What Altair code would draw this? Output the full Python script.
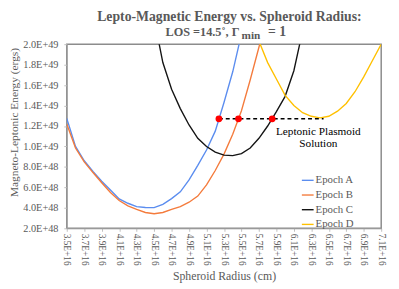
import altair as alt
import pandas as pd

# ---- data (radius in cm, energy in ergs) ----
radius_a = [3.5e16, 3.6e16, 3.7e16, 3.8e16, 3.9e16, 4.0e16, 4.1e16, 4.2e16, 4.3e16, 4.4e16,
            4.5e16, 4.6e16, 4.7e16, 4.8e16, 4.9e16, 5.0e16, 5.1e16, 5.2e16, 5.3e16, 5.4e16, 5.5e16]
energy_a = [1.275e49, 1.0e49, 8.6e48, 7.55e48, 6.6e48, 5.75e48, 4.88e48, 4.45e48, 4.12e48, 4.03e48,
            4.02e48, 4.35e48, 4.9e48, 5.57e48, 6.73e48, 8.15e48, 9.65e48, 1.15e49, 1.43e49, 1.73e49, 2.1e49]

radius_b = [3.5e16, 3.6e16, 3.7e16, 3.8e16, 3.9e16, 4.0e16, 4.1e16, 4.2e16, 4.3e16, 4.4e16,
            4.5e16, 4.6e16, 4.7e16, 4.8e16, 4.9e16, 5.0e16, 5.1e16, 5.2e16, 5.3e16, 5.4e16,
            5.5e16, 5.6e16, 5.7e16, 5.8e16]
energy_b = [1.22e49, 9.85e48, 8.5e48, 7.45e48, 6.45e48, 5.5e48, 4.72e48, 4.2e48, 3.85e48, 3.55e48,
            3.43e48, 3.55e48, 3.85e48, 4.12e48, 4.55e48, 5.15e48, 6.25e48, 7.65e48, 9.25e48, 1.12e49,
            1.35e49, 1.65e49, 1.97e49, 2.3e49]

radius_c = [4.5e16, 4.6e16, 4.7e16, 4.8e16, 4.9e16, 5.0e16, 5.1e16, 5.2e16, 5.3e16, 5.4e16,
            5.5e16, 5.6e16, 5.7e16, 5.8e16, 5.9e16, 6.0e16, 6.1e16, 6.2e16]
energy_c = [2.25e49, 1.82e49, 1.56e49, 1.37e49, 1.21e49, 1.08e49, 1.0e49, 9.45e48, 9.15e48, 9.1e48,
            9.3e48, 9.85e48, 1.08e49, 1.2e49, 1.34e49, 1.49e49, 1.74e49, 2.13e49]

radius_d = [5.7e16, 5.8e16, 5.9e16, 6.0e16, 6.1e16, 6.2e16, 6.3e16, 6.4e16, 6.5e16, 6.6e16,
            6.7e16, 6.8e16, 6.9e16, 7.0e16, 7.1e16]
energy_d = [2.03e49, 1.82e49, 1.66e49, 1.5e49, 1.4e49, 1.33e49, 1.295e49, 1.28e49, 1.295e49, 1.345e49,
            1.42e49, 1.535e49, 1.68e49, 1.84e49, 2.0e49]

series_names = ["Epoch A", "Epoch B", "Epoch C", "Epoch D"]
series_colors = ["#5B8DEF", "#F47B3C", "#141414", "#FFC000"]
series_widths = [1.4, 1.4, 1.8, 1.4]

solution_radius = [5.242e16, 5.466e16, 5.852e16]
solution_energy = [1.27e49, 1.27e49, 1.27e49]
solution_line_start = [5.242e16]
solution_line_end = [6.44e16]
solution_line_energy = [1.27e49]

x_ticks = [3.5e16, 3.7e16, 3.9e16, 4.1e16, 4.3e16, 4.5e16, 4.7e16, 4.9e16, 5.1e16, 5.3e16,
           5.5e16, 5.7e16, 5.9e16, 6.1e16, 6.3e16, 6.5e16, 6.7e16, 6.9e16, 7.1e16]
y_ticks = [2e48, 4e48, 6e48, 8e48, 1.0e49, 1.2e49, 1.4e49, 1.6e49, 1.8e49, 2.0e49]

title_line1 = "Lepto-Magnetic Energy vs. Spheroid Radius:"
title_line2 = ["LOS =14.5˚, Γ", "min", "= 1"]

rows = []
for name, xs, ys in zip(series_names, [radius_a, radius_b, radius_c, radius_d],
                        [energy_a, energy_b, energy_c, energy_d]):
    for x, y in zip(xs, ys):
        rows.append({"radius": x, "energy": y, "series": name})
df = pd.DataFrame(rows)

dots = pd.DataFrame({"radius": solution_radius, "energy": solution_energy})
dash = pd.DataFrame({"radius": solution_line_start, "radius2": solution_line_end,
                     "energy": solution_line_energy})
note = pd.DataFrame({"radius": [6.38e16], "energy": [1.116e49], "t": ["Leptonic Plasmoid\nSolution"]})

SERIF = "'Liberation Serif', 'Times New Roman', Times, serif"
GREY = "#595959"

x_scale = alt.Scale(domain=[3.5e16, 7.1e16], nice=False, zero=False)
y_scale = alt.Scale(domain=[2e48, 2e49], nice=False, zero=False)

common_axis = dict(grid=False, labelOverlap=False, labelBound=False, labelFlush=False,
                   labelFont=SERIF, labelColor=GREY,
                   titleFont=SERIF, titleFontWeight="normal", titleColor=GREY,
                   tickColor="#bfbfbf", tickSize=3, domainColor="#a0a0a0", domainWidth=1)

x_enc = alt.X("radius:Q", scale=x_scale, title="Spheroid Radius (cm)",
              axis=alt.Axis(values=x_ticks, labelAngle=90, labelFontSize=9.5, titleFontSize=12,
                            labelExpr="format(datum.value/1e16,'.1f')+'E+16'",
                            labelPadding=2, titleY=52, titleBaseline="alphabetic", **common_axis))
y_enc = alt.Y("energy:Q", scale=y_scale, title="Magneto-Leptonic Energy (ergs)",
              axis=alt.Axis(values=y_ticks, labelFontSize=10.5, titleFontSize=11.6,
                            labelExpr="datum.value >= 9.99e48 ? format(datum.value/1e49,'.1f')+'E+49' : format(datum.value/1e48,'.1f')+'E+48'",
                            labelPadding=6, titleX=-50.5, titleY=79.5, titleBaseline="alphabetic",
                            **common_axis))

lines = alt.Chart(df).mark_line(clip=True).encode(
    x=x_enc,
    y=y_enc,
    color=alt.Color("series:N", scale=alt.Scale(domain=series_names, range=series_colors),
                    legend=alt.Legend(title=None, orient="none", legendX=239, legendY=132,
                                      symbolType="stroke", symbolSize=144, symbolStrokeWidth=2,
                                      labelFont=SERIF, labelFontSize=11, labelColor=GREY,
                                      labelOffset=1, rowPadding=3, padding=0)),
    strokeWidth=alt.StrokeWidth("series:N", scale=alt.Scale(domain=series_names, range=series_widths),
                                legend=None),
    detail="series:N",
)

rule = alt.Chart(dash).mark_rule(color="black", strokeWidth=1.5, strokeDash=[4, 3]).encode(
    x=x_enc, x2="radius2:Q", y=y_enc)

points = alt.Chart(dots).mark_circle(color="#FF0000", size=48, opacity=1).encode(x=x_enc, y=y_enc)

annot = alt.Chart(note).mark_text(font=SERIF, fontSize=11.5, color="black", align="center",
                                   baseline="alphabetic", lineBreak="\n", lineHeight=12.4).encode(
    x=x_enc, y=y_enc, text="t:N")

t0 = alt.Chart(pd.DataFrame({"t": [title_line1]})).mark_text(
    font=SERIF, fontSize=14, fontWeight="bold", color=GREY, align="center", baseline="alphabetic"
).encode(x=alt.value(166), y=alt.value(-23.3), text="t:N")
t1 = alt.Chart(pd.DataFrame({"t": [title_line2[0]]})).mark_text(
    font=SERIF, fontSize=12.5, fontWeight="bold", color=GREY, align="right", baseline="alphabetic"
).encode(x=alt.value(176.3), y=alt.value(-8.7), text="t:N")
t2 = alt.Chart(pd.DataFrame({"t": [title_line2[1]]})).mark_text(
    font=SERIF, fontSize=11.5, fontWeight="bold", color=GREY, align="left", baseline="alphabetic"
).encode(x=alt.value(178.5), y=alt.value(-5.5), text="t:N")
t3 = alt.Chart(pd.DataFrame({"t": [title_line2[2]]})).mark_text(
    font=SERIF, fontSize=14, fontWeight="bold", color=GREY, align="left", baseline="alphabetic"
).encode(x=alt.value(205.5), y=alt.value(-8.7), text="t:N")

chart = alt.layer(lines, rule, points, annot, t0, t1, t2, t3).properties(
    width=321, height=188,
    autosize=alt.AutoSizeParams(type="none"),
    padding={"left": 60, "top": 34, "right": 10, "bottom": 58},
).configure_view(stroke="#8c8c8c", strokeWidth=1.5)

chart.save("out.html", embed_options={"renderer": "svg", "actions": False})
